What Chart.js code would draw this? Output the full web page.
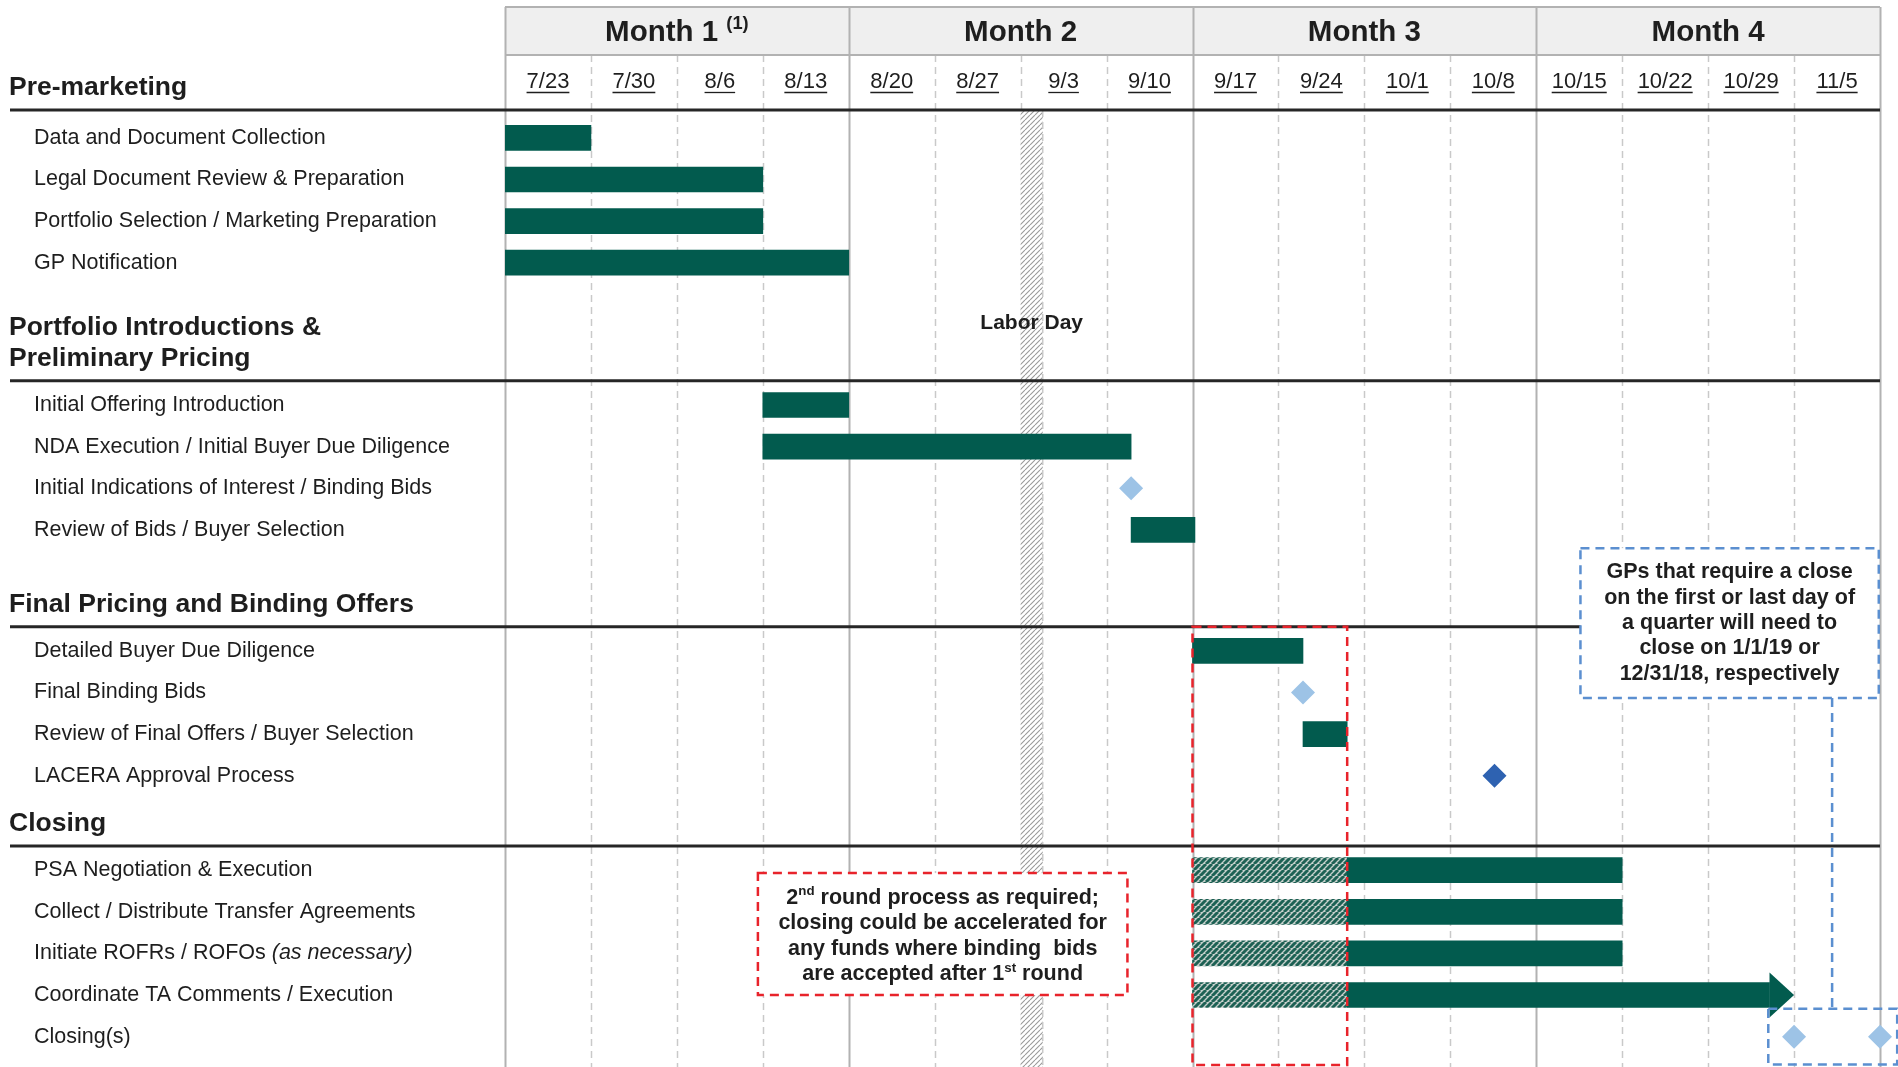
<!DOCTYPE html>
<html lang="en">
<head>
    <meta charset="UTF-8">
    <title>Transaction Timeline</title>
    <script src="https://cdn.jsdelivr.net/npm/chart.js"></script>
    <style>
        html, body { margin: 0; padding: 0; background: #ffffff; overflow: hidden; }
        canvas { display: block; }
    </style>
</head>
<body>
    <canvas id="timeline" width="1898" height="1067"></canvas>

    <script>
        // ---- timeline data (x values are days after 7/23) ----
        const months = ['Month 1', 'Month 2', 'Month 3', 'Month 4'];
        const monthNotes = ['(1)', '', '', ''];
        const weekLabels = ['7/23', '7/30', '8/6', '8/13', '8/20', '8/27', '9/3', '9/10',
                            '9/17', '9/24', '10/1', '10/8', '10/15', '10/22', '10/29', '11/5'];
        const sectionTitles = [
            ['Pre-marketing'],
            ['Portfolio Introductions &', 'Preliminary Pricing'],
            ['Final Pricing and Binding Offers'],
            ['Closing']
        ];
        const taskNames = [
            'Data and Document Collection',
            'Legal Document Review & Preparation',
            'Portfolio Selection / Marketing Preparation',
            'GP Notification',
            'Initial Offering Introduction',
            'NDA Execution / Initial Buyer Due Diligence',
            'Initial Indications of Interest / Binding Bids',
            'Review of Bids / Buyer Selection',
            'Detailed Buyer Due Diligence',
            'Final Binding Bids',
            'Review of Final Offers / Buyer Selection',
            'LACERA Approval Process',
            'PSA Negotiation & Execution',
            'Collect / Distribute Transfer Agreements',
            'Initiate ROFRs / ROFOs (as necessary)',
            'Coordinate TA Comments / Execution',
            'Closing(s)'
        ];
        const taskSection = [0, 0, 0, 0, 1, 1, 1, 1, 2, 2, 2, 2, 3, 3, 3, 3, 3];
        const barStart = [0, 0, 0, 0, 21, 21, null, 51, 56, null, 65, null, 68.6, 68.6, 68.6, 68.6, null];
        const barEnd   = [7, 21, 21, 28, 28, 51, null, 56.2, 65, null, 68.6, null, 91, 91, 91, 105, null];
        const roundTwoStart = [null, null, null, null, null, null, null, null, null, null, null, null, 56, 56, 56, 56, null];
        const roundTwoEnd   = [null, null, null, null, null, null, null, null, null, null, null, null, 68.6, 68.6, 68.6, 68.6, null];
        const arrowRows = [15];
        const milestoneRows = [6, 9, 16, 16];
        const milestoneDays = [51, 65, 105, 112];
        const approvalRows = [11];
        const approvalDays = [80.6];
        const laborDay = [42, 43.8];

        const roundTwoNote = ['2{nd} round process as required;', 'closing could be accelerated for',
                              'any funds where binding  bids', 'are accepted after 1{st} round'];
        const quarterNote = ['GPs that require a close', 'on the first or last day of', 'a quarter will need to',
                             'close on 1/1/19 or', '12/31/18, respectively'];

        // ---- layout ----
        const FONT = "'Liberation Sans', Arial, Helvetica, sans-serif";
        const INK = '#1e1e1e';
        const GREEN = '#025b4e';
        const RED = '#e8232b';
        const BLUE = '#5b8fd0';
        const SECTION_GAP = [0, 3.42, 2.91, 2.27];
        const ARROW_DAYS = 2;
        const HEAD_TOP = 7, HEAD_BOTTOM = 55, MONTH_Y = 33, DATE_Y = 82;
        const Y_MIN = -0.67, Y_MAX = 22.33;

        const rowPos = [];
        let pos = 0;
        taskSection.forEach((s, i) => {
            if (i > 0) pos += (s !== taskSection[i - 1]) ? SECTION_GAP[s] : 1;
            rowPos.push(pos);
        });
        // the first rule sits on the top edge of the plot area
        const sectionLine = sectionTitles.map((_, s) => s === 0 ? Y_MIN : rowPos[taskSection.indexOf(s)] - 0.58);

        function stripes(bg, fg, size, width) {
            const c = document.createElement('canvas');
            c.width = c.height = size;
            const g = c.getContext('2d');
            g.fillStyle = bg;
            g.fillRect(0, 0, size, size);
            g.strokeStyle = fg;
            g.lineWidth = width;
            g.beginPath();
            for (const o of [-size, 0, size]) {
                g.moveTo(o, size);
                g.lineTo(o + size, 0);
            }
            g.stroke();
            return g.createPattern(c, 'repeat');
        }
        const roundTwoFill = stripes('#c5cfcb', '#1d6154', 6, 3);
        const holidayFill = stripes('#ffffff', '#9a9a9a', 5, 1.1);

        // text with {superscript} and " (italic)" runs
        function richParts(text, italicParens) {
            const parts = [];
            const re = /\{([^}]*)\}/g;
            let last = 0, m;
            while ((m = re.exec(text)) !== null) {
                if (m.index > last) parts.push({ t: text.slice(last, m.index) });
                parts.push({ t: m[1], sup: true });
                last = re.lastIndex;
            }
            if (last < text.length) parts.push({ t: text.slice(last) });
            if (!italicParens) return parts;
            const out = [];
            parts.forEach(p => {
                const k = p.t.indexOf(' (');
                if (k > 0 && p.t.endsWith(')')) {
                    out.push({ t: p.t.slice(0, k + 1) });
                    out.push({ t: p.t.slice(k + 1), italic: true });
                } else out.push(p);
            });
            return out;
        }

        function drawRich(ctx, parts, x, y, align, size, weight) {
            const fontOf = p => (p.italic ? 'italic ' : '') + weight + ' ' + (p.sup ? size * 0.62 : size) + 'px ' + FONT;
            const widths = parts.map(p => { ctx.font = fontOf(p); return ctx.measureText(p.t).width; });
            const total = widths.reduce((a, b) => a + b, 0);
            let cx = align === 'center' ? x - total / 2 : x;
            ctx.textAlign = 'left';
            ctx.textBaseline = 'middle';
            parts.forEach((p, i) => {
                ctx.font = fontOf(p);
                ctx.fillText(p.t, cx, p.sup ? y - size * 0.3 : y);
                cx += widths[i];
            });
        }

        function dashedRect(ctx, x0, y0, x1, y1, color, fill) {
            if (fill) {
                ctx.fillStyle = fill;
                ctx.fillRect(x0, y0, x1 - x0, y1 - y0);
            }
            ctx.strokeStyle = color;
            ctx.lineWidth = 2.5;
            ctx.setLineDash([9, 6]);
            ctx.strokeRect(x0, y0, x1 - x0, y1 - y0);
            ctx.setLineDash([]);
        }

        // header, grid, holiday band, section rules and row labels
        const ganttBackdrop = {
            id: 'ganttBackdrop',
            beforeDatasetsDraw(chart) {
                const { ctx, chartArea: area, scales: { x, y } } = chart;
                ctx.save();

                ctx.fillStyle = '#efefef';
                ctx.fillRect(area.left, HEAD_TOP, area.right - area.left, HEAD_BOTTOM - HEAD_TOP);

                // week lines (dashed) and month lines (solid)
                for (let w = 0; w <= weekLabels.length; w++) {
                    const px = Math.round(x.getPixelForValue(w * 7)) + 0.5;
                    ctx.beginPath();
                    if (w % 4 === 0) {
                        ctx.strokeStyle = '#b2b2b2';
                        ctx.lineWidth = 2;
                        ctx.setLineDash([]);
                        ctx.moveTo(px, HEAD_TOP);
                    } else {
                        ctx.strokeStyle = '#c9c9c9';
                        ctx.lineWidth = 1.5;
                        ctx.setLineDash([7, 5]);
                        ctx.moveTo(px, HEAD_BOTTOM);
                    }
                    ctx.lineTo(px, area.bottom);
                    ctx.stroke();
                }
                ctx.setLineDash([]);
                ctx.strokeStyle = '#b2b2b2';
                ctx.lineWidth = 2;
                ctx.beginPath();
                ctx.moveTo(area.left, HEAD_TOP);
                ctx.lineTo(area.right, HEAD_TOP);
                ctx.moveTo(area.left, HEAD_BOTTOM);
                ctx.lineTo(area.right, HEAD_BOTTOM);
                ctx.stroke();

                // month titles
                ctx.fillStyle = INK;
                months.forEach((m, i) => {
                    const cx = (x.getPixelForValue(i * 28) + x.getPixelForValue((i + 1) * 28)) / 2;
                    const parts = [{ t: m }];
                    if (monthNotes[i]) parts.push({ t: ' ' }, { t: monthNotes[i], sup: true });
                    drawRich(ctx, parts, cx, MONTH_Y, 'center', 29.5, 'bold');
                });

                // week dates, underlined
                ctx.font = '22px ' + FONT;
                ctx.textAlign = 'center';
                ctx.textBaseline = 'middle';
                ctx.lineWidth = 1.3;
                ctx.strokeStyle = INK;
                weekLabels.forEach((d, w) => {
                    const cx = x.getPixelForValue(w * 7 + 3.5);
                    const tw = ctx.measureText(d).width;
                    ctx.fillText(d, cx, DATE_Y);
                    ctx.beginPath();
                    ctx.moveTo(cx - tw / 2, DATE_Y + 10.5);
                    ctx.lineTo(cx + tw / 2, DATE_Y + 10.5);
                    ctx.stroke();
                });

                // Labor Day band
                const hx0 = x.getPixelForValue(laborDay[0]);
                const hx1 = x.getPixelForValue(laborDay[1]);
                ctx.fillStyle = holidayFill;
                ctx.fillRect(hx0, area.top, hx1 - hx0, area.bottom - area.top);
                ctx.strokeStyle = '#c9c9c9';
                ctx.lineWidth = 1.5;
                ctx.setLineDash([7, 5]);
                ctx.beginPath();
                ctx.moveTo(hx1, area.top);
                ctx.lineTo(hx1, area.bottom);
                ctx.stroke();
                ctx.setLineDash([]);

                // section rules and titles
                sectionTitles.forEach((lines, s) => {
                    const ly = y.getPixelForValue(sectionLine[s]);
                    ctx.strokeStyle = '#262626';
                    ctx.lineWidth = 3;
                    ctx.beginPath();
                    ctx.moveTo(10, ly);
                    ctx.lineTo(area.right, ly);
                    ctx.stroke();
                    ctx.fillStyle = INK;
                    ctx.font = 'bold 26.5px ' + FONT;
                    ctx.textAlign = 'left';
                    ctx.textBaseline = 'middle';
                    lines.forEach((t, k) => {
                        ctx.fillText(t, 9, ly - 22 - (lines.length - 1 - k) * 31.5);
                    });
                });

                // task labels
                ctx.fillStyle = INK;
                taskNames.forEach((t, i) => {
                    drawRich(ctx, richParts(t, true), 34, y.getPixelForValue(rowPos[i]), 'left', 21.5, 'normal');
                });

                ctx.font = 'bold 21px ' + FONT;
                ctx.textAlign = 'center';
                ctx.fillStyle = INK;
                ctx.fillText('Labor Day', (hx0 + hx1) / 2, y.getPixelForValue(4.45));

                ctx.restore();
            },

            // arrow heads and the two notes
            afterDatasetsDraw(chart) {
                const { ctx, chartArea: area, scales: { x, y } } = chart;
                ctx.save();

                ctx.fillStyle = GREEN;
                arrowRows.forEach(i => {
                    const tip = x.getPixelForValue(barEnd[i]);
                    const base = x.getPixelForValue(barEnd[i] - ARROW_DAYS);
                    const cy = y.getPixelForValue(rowPos[i]);
                    ctx.beginPath();
                    ctx.moveTo(base, cy - 22.5);
                    ctx.lineTo(tip, cy);
                    ctx.lineTo(base, cy + 22.5);
                    ctx.closePath();
                    ctx.fill();
                });

                // second round window
                const rx0 = x.getPixelForValue(roundTwoStart[12]);
                const rx1 = x.getPixelForValue(roundTwoEnd[12]);
                dashedRect(ctx, rx0, y.getPixelForValue(sectionLine[2]), rx1, area.bottom - 2, RED, null);

                // second round note
                const nx0 = x.getPixelForValue(20.6), nx1 = x.getPixelForValue(50.7);
                const ny0 = y.getPixelForValue(17.67), ny1 = y.getPixelForValue(20.6);
                dashedRect(ctx, nx0, ny0, nx1, ny1, RED, '#ffffff');
                ctx.fillStyle = INK;
                roundTwoNote.forEach((t, k) => {
                    const ty = (ny0 + ny1) / 2 + 2 + (k - (roundTwoNote.length - 1) / 2) * 25.5;
                    drawRich(ctx, richParts(t, false), (nx0 + nx1) / 2, ty, 'center', 21.5, 'bold');
                });

                // quarter-end note, linked to the closing milestones
                const closeRow = rowPos[16];
                const qx0 = x.getPixelForValue(87.6), qx1 = x.getPixelForValue(111.9);
                const qy0 = y.getPixelForValue(9.86), qy1 = y.getPixelForValue(13.46);
                const bx0 = x.getPixelForValue(milestoneDays[2] - 2.1);
                const bx1 = x.getPixelForValue(milestoneDays[3] + 1.4);
                const by0 = y.getPixelForValue(closeRow - 0.67);
                const by1 = y.getPixelForValue(closeRow + 0.67);
                const linkX = x.getPixelForValue(108.1);
                ctx.strokeStyle = BLUE;
                ctx.lineWidth = 2.5;
                ctx.setLineDash([9, 6]);
                ctx.beginPath();
                ctx.moveTo(linkX, qy1);
                ctx.lineTo(linkX, by0);
                ctx.stroke();
                dashedRect(ctx, bx0, by0, bx1, by1, BLUE, null);
                dashedRect(ctx, qx0, qy0, qx1, qy1, BLUE, '#ffffff');
                ctx.fillStyle = INK;
                quarterNote.forEach((t, k) => {
                    const ty = (qy0 + qy1) / 2 + (k - (quarterNote.length - 1) / 2) * 25.4;
                    drawRich(ctx, [{ t }], (qx0 + qx1) / 2, ty, 'center', 21.5, 'bold');
                });

                ctx.restore();
            }
        };

        // ---- datasets ----
        const barData = [];
        const barFill = [];
        taskNames.forEach((_, i) => {
            if (roundTwoStart[i] !== null) {
                barData.push({ x: [roundTwoStart[i], roundTwoEnd[i]], y: rowPos[i] });
                barFill.push(roundTwoFill);
            }
            if (barStart[i] !== null) {
                const end = arrowRows.includes(i) ? barEnd[i] - ARROW_DAYS : barEnd[i];
                barData.push({ x: [barStart[i], end], y: rowPos[i] });
                barFill.push(GREEN);
            }
        });

        new Chart(document.getElementById('timeline'), {
            type: 'bar',
            data: {
                datasets: [
                    {
                        type: 'bar',
                        data: barData,
                        backgroundColor: barFill,
                        borderWidth: 0,
                        borderSkipped: false,
                        barThickness: 25
                    },
                    {
                        type: 'scatter',
                        data: milestoneRows.map((r, k) => ({ x: milestoneDays[k], y: rowPos[r] })),
                        pointStyle: 'rectRot',
                        pointRadius: 12,
                        backgroundColor: '#9dc3e6',
                        borderWidth: 0,
                        clip: false
                    },
                    {
                        type: 'scatter',
                        data: approvalRows.map((r, k) => ({ x: approvalDays[k], y: rowPos[r] })),
                        pointStyle: 'rectRot',
                        pointRadius: 12,
                        backgroundColor: '#2e62b1',
                        borderWidth: 0,
                        clip: false
                    }
                ]
            },
            options: {
                indexAxis: 'y',
                responsive: false,
                animation: false,
                events: [],
                layout: { autoPadding: false, padding: { top: 110, left: 505, right: 18, bottom: 0 } },
                scales: {
                    x: { type: 'linear', min: 0, max: 112, offset: false, grace: 0, display: false },
                    y: { type: 'linear', min: Y_MIN, max: Y_MAX, reverse: true, offset: false, grace: 0, display: false }
                },
                plugins: {
                    legend: { display: false },
                    tooltip: { enabled: false }
                }
            },
            plugins: [ganttBackdrop]
        });
    </script>
</body>
</html>
